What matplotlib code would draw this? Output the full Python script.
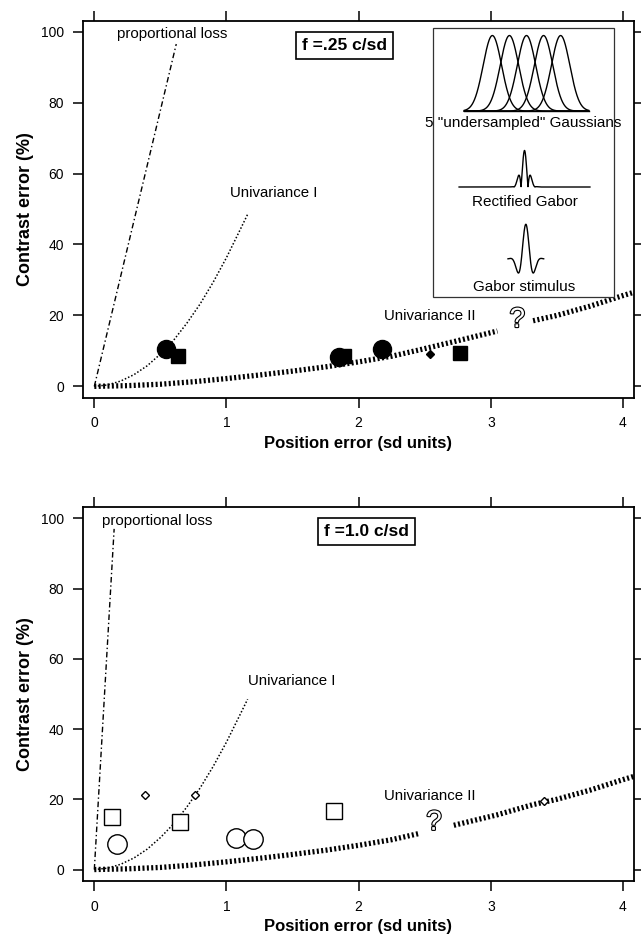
import numpy as np
import matplotlib
matplotlib.use('Agg')
import matplotlib.pyplot as plt
import matplotlib.patheffects as pe
from matplotlib.patches import Rectangle

plt.rcParams['font.family'] = ['Liberation Sans', 'DejaVu Sans']

# ---- données ----
pos_ticks = [0, 1, 2, 3, 4]
err_ticks = [0, 20, 40, 60, 80, 100]

# perte proportionnelle (droite)
prop_x_25 = [0.0, 0.62]
prop_y_25 = [0.0, 96.5]
prop_x_10 = [0.0, 0.15]
prop_y_10 = [0.0, 97.0]

# Univariance I (pointillé fin)
uni1_x = [0.0, 0.1, 0.2, 0.3, 0.4, 0.5, 0.6, 0.7, 0.8, 0.9, 1.0, 1.1, 1.16]
uni1_y = [0.0, 0.4, 1.5, 3.3, 5.8, 9.1, 13.0, 17.8, 23.2, 29.4, 36.3, 43.9, 48.5]

# Univariance II (pointillé épais)
uni2_x = [0.0, 0.25, 0.5, 0.75, 1.0, 1.25, 1.5, 1.75, 2.0, 2.25, 2.45, 2.72,
          3.05, 3.32, 3.5, 3.75, 4.0, 4.08]
uni2_y = [0.0, 0.2, 0.6, 1.3, 2.2, 3.2, 4.3, 5.5, 6.9, 8.5, 10.2, 12.6,
          15.6, 18.5, 20.0, 22.6, 25.6, 26.5]
gap_25 = (3.05, 3.32)
gap_10 = (2.45, 2.72)

# f = .25 c/sd (symboles pleins)
circ_x_25 = [0.54, 1.85, 2.18]
circ_y_25 = [10.4, 8.4, 10.5]
sq_x_25 = [0.63, 1.89, 2.77]
sq_y_25 = [8.5, 8.5, 9.3]
dia_x_25 = [2.54]
dia_y_25 = [9.2]

# f = 1.0 c/sd (symboles vides)
circ_x_10 = [0.17, 1.07, 1.20]
circ_y_10 = [7.2, 9.0, 8.8]
sq_x_10 = [0.13, 0.65, 1.81]
sq_y_10 = [15.1, 13.6, 16.7]
dia_x_10 = [0.38, 0.76, 3.40]
dia_y_10 = [21.3, 21.3, 19.6]

# vignettes de l'encart : centres des 5 gaussiennes (en écarts entre gaussiennes)
gauss_centres = [-2, -1, 0, 1, 2]


def preparer_axes(ax):
    ax.set_xlim(-0.088, 4.083)
    ax.set_ylim(-3.2, 103.1)
    ax.set_xticks(pos_ticks)
    ax.set_yticks(err_ticks)
    ax.tick_params(direction='out', length=7.5, width=1.1, top=True, right=True,
                   labeltop=False, labelright=False, labelsize=10, pad=6)
    for s in ax.spines.values():
        s.set_linewidth(1.3)
    ax.set_xlabel('Position error (sd units)', fontsize=12, fontweight='bold', labelpad=4)
    ax.set_ylabel('Contrast error (%)', fontsize=13, fontweight='bold', labelpad=5)


def tracer_courbes(ax, prop_x, prop_y, gap):
    ax.plot(prop_x, prop_y, color='black', lw=1.0, linestyle=(0, (4, 2, 1, 2)))
    ax.plot(uni1_x, uni1_y, color='black', lw=1.1, linestyle=(0, (1, 1.3)))
    x2 = np.array(uni2_x)
    y2 = np.array(uni2_y)
    avant = x2 <= gap[0]
    apres = x2 >= gap[1]
    for m in (avant, apres):
        ax.plot(x2[m], y2[m], color='black', lw=3.8, linestyle=(0, (0.38, 0.45)))


def point_interrogation(ax, x, y):
    ax.text(x, y, '?', fontsize=20, color='white', ha='center', va='center',
            path_effects=[pe.withStroke(linewidth=1.6, foreground='black')])


def vignettes(ax):
    # cadre de l'encart
    ax.add_patch(Rectangle((2.56, 25.2), 1.37, 75.8, fc='white', lw=0.9, ec='#333333', zorder=3))

    # 5 gaussiennes
    g = ax.inset_axes([2.80, 77.6, 0.94, 21.3], transform=ax.transData, zorder=4)
    t = np.linspace(-3.64, 3.64, 800)
    for c in gauss_centres:
        g.plot(t, np.exp(-(t - c) ** 2 / (2 * 0.54 ** 2)), color='black', lw=1.0, clip_on=False)
    g.plot([-3.64, 3.64], [0, 0], color='black', lw=1.0, clip_on=False)
    g.set_xlim(-3.64, 3.64)
    g.set_ylim(0, 1)
    g.axis('off')
    ax.text(3.245, 74.2, '5 "undersampled" Gaussians', fontsize=11, ha='center', va='center', zorder=5)

    # Gabor rectifié
    r = ax.inset_axes([2.76, 56.2, 0.99, 10.3], transform=ax.transData, zorder=4)
    t = np.linspace(-4.7, 4.7, 1500)
    r.plot(t, np.abs(np.exp(-t ** 2 / (2 * 0.296 ** 2)) * np.cos(2 * np.pi * t)),
           color='black', lw=1.0, clip_on=False)
    r.set_xlim(-4.7, 4.7)
    r.set_ylim(0, 1)
    r.axis('off')
    ax.text(3.255, 52.0, 'Rectified Gabor', fontsize=11, ha='center', va='center', zorder=5)

    # stimulus de Gabor
    s = ax.inset_axes([3.13, 32.6, 0.27, 13.1], transform=ax.transData, zorder=4)
    t = np.linspace(-1, 1, 400)
    s.plot(t, np.exp(-t ** 2 / (2 * 0.333 ** 2)) * np.cos(2 * np.pi * t),
           color='black', lw=1.0, clip_on=False)
    s.set_xlim(-1, 1)
    s.set_ylim(-0.33, 1.0)
    s.axis('off')
    ax.text(3.255, 28.1, 'Gabor stimulus', fontsize=11, ha='center', va='center', zorder=5)


fig = plt.figure(figsize=(6.41, 9.38), dpi=100)

# ---- panneau du haut : f = .25 c/sd ----
ax1 = fig.add_axes([0.129, 0.576, 0.860, 0.402])
preparer_axes(ax1)
tracer_courbes(ax1, prop_x_25, prop_y_25, gap_25)
ax1.plot(circ_x_25, circ_y_25, 'o', color='black', ms=13, zorder=6)
ax1.plot(sq_x_25, sq_y_25, 's', color='black', ms=10.5, zorder=6)
ax1.plot(dia_x_25, dia_y_25, 'D', color='black', ms=4.5, zorder=6)
point_interrogation(ax1, 3.2, 18.7)
ax1.text(0.17, 99.2, 'proportional loss', fontsize=10.8, va='center')
ax1.text(1.03, 54.5, 'Univariance I', fontsize=10.8, va='center')
ax1.text(2.19, 19.8, 'Univariance II', fontsize=10.8, va='center')
ax1.text(1.89, 96.0, 'f =.25 c/sd', fontsize=12.5, fontweight='bold', ha='center', va='center',
         bbox=dict(boxstyle='square,pad=0.35', fc='white', ec='black', lw=1.2))
vignettes(ax1)

# ---- panneau du bas : f = 1.0 c/sd ----
ax2 = fig.add_axes([0.129, 0.061, 0.860, 0.398])
preparer_axes(ax2)
tracer_courbes(ax2, prop_x_10, prop_y_10, gap_10)
ax2.plot(circ_x_10, circ_y_10, 'o', mfc='white', mec='black', mew=1.0, ms=14, zorder=6)
ax2.plot(sq_x_10, sq_y_10, 's', mfc='white', mec='black', mew=1.0, ms=11, zorder=6)
ax2.plot(dia_x_10, dia_y_10, 'D', mfc='white', mec='black', mew=1.0, ms=4.5, zorder=6)
point_interrogation(ax2, 2.57, 13.3)
ax2.text(0.055, 99.3, 'proportional loss', fontsize=10.8, va='center')
ax2.text(1.16, 53.6, 'Univariance I', fontsize=10.8, va='center')
ax2.text(2.19, 21.0, 'Univariance II', fontsize=10.8, va='center')
ax2.text(2.06, 96.3, 'f =1.0 c/sd', fontsize=12.5, fontweight='bold', ha='center', va='center',
         bbox=dict(boxstyle='square,pad=0.35', fc='white', ec='black', lw=1.2))

fig.savefig('out.png', dpi=100)
